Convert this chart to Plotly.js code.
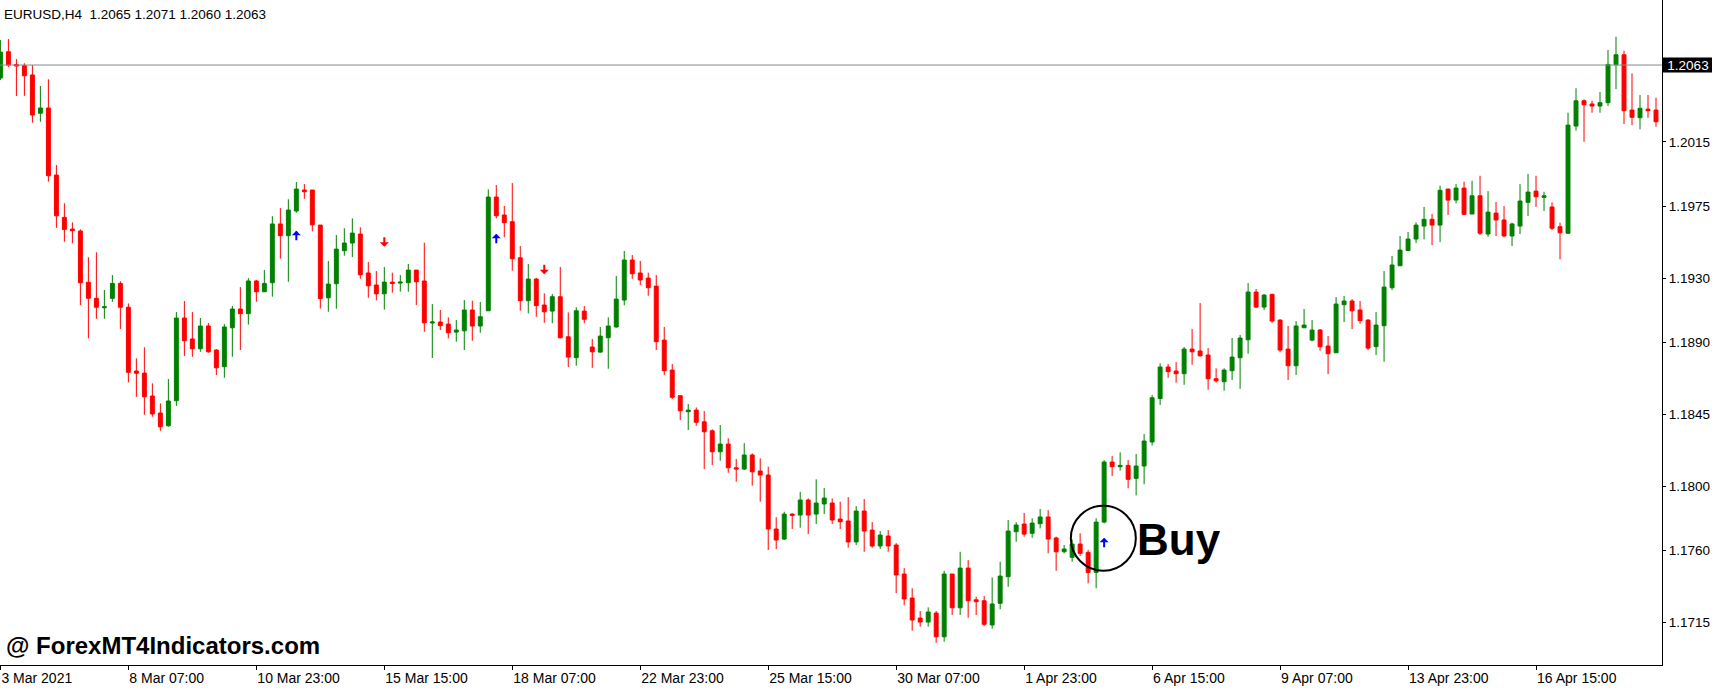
<!DOCTYPE html>
<html><head><meta charset="utf-8">
<script src="https://cdn.plot.ly/plotly-3.0.1.min.js"></script>
<style>html,body{margin:0;padding:0;background:#fff;}#chart{width:1712px;height:691px;}</style>
</head><body><div id="chart"></div>
<script>
const symbolTitle = "EURUSD,H4  1.2065 1.2071 1.2060 1.2063";
const currentPrice = 1.2063;
const tickBars = [0,16,32,48,64,80,96,112,128,144,160,176,192];
const tickLabels = ["3 Mar 2021","8 Mar 07:00","10 Mar 23:00","15 Mar 15:00","18 Mar 07:00","22 Mar 23:00","25 Mar 15:00","30 Mar 07:00","1 Apr 23:00","6 Apr 15:00","9 Apr 07:00","13 Apr 23:00","16 Apr 15:00"];
const priceTicks = [1.2015,1.1975,1.1930,1.1890,1.1845,1.1800,1.1760,1.1715];
const priceTickLabels = ["1.2015","1.1975","1.1930","1.1890","1.1845","1.1800","1.1760","1.1715"];

const openP = [
1.20549,1.20713,1.20633,1.20626,1.20568,1.20329,1.20362,1.19943,
1.19679,1.19606,1.19594,1.19274,1.19174,1.19115,1.19174,1.19267,
1.19118,1.18720,1.18707,1.18564,1.18458,1.18378,1.18535,1.19051,
1.18920,1.18859,1.19001,1.18851,1.18747,1.18990,1.19107,1.19078,
1.19282,1.19215,1.19271,1.19638,1.19565,1.19719,1.19850,1.19850,
1.19631,1.19177,1.19265,1.19471,1.19519,1.19575,1.19332,1.19257,
1.19202,1.19275,1.19269,1.19271,1.19350,1.19282,1.19020,1.19026,
1.19013,1.18963,1.18971,1.19101,1.19001,1.19096,1.19806,1.19694,
1.19652,1.19427,1.19159,1.19294,1.19132,1.19094,1.19184,1.18934,
1.18803,1.19094,1.18870,1.18838,1.18928,1.18995,1.19163,1.19413,
1.19332,1.19300,1.19250,1.18913,1.18726,1.18566,1.18466,1.18476,
1.18403,1.18347,1.18216,1.18264,1.18116,1.18108,1.18196,1.18096,
1.18071,1.17734,1.17671,1.17827,1.17821,1.17915,1.17827,1.17890,
1.17896,1.17796,1.17784,1.17653,1.17846,1.17727,1.17628,1.17690,
1.17634,1.17453,1.17303,1.17178,1.17153,1.17209,1.17061,1.17453,
1.17242,1.17490,1.17292,1.17286,1.17135,1.17270,1.17436,1.17717,
1.17765,1.17707,1.17767,1.17809,1.17678,1.17592,1.17557,1.17640,
1.17588,1.17463,1.17777,1.18152,1.18123,1.18131,1.18050,1.18127,
1.18277,1.18548,1.18745,1.18720,1.18703,1.18857,1.18845,1.18820,
1.18672,1.18653,1.18722,1.18803,1.18915,1.19213,1.19119,1.19199,
1.19038,1.18857,1.18753,1.18990,1.18913,1.18976,1.18876,1.18834,
1.19134,1.19157,1.19101,1.19038,1.18872,1.19003,1.19240,1.19377,
1.19472,1.19544,1.19625,1.19667,1.19631,1.19856,1.19787,1.19862,
1.19700,1.19814,1.19575,1.19706,1.19663,1.19563,1.19625,1.19773,
1.19843,1.19804,1.19744,1.19621,1.19580,1.20249,1.20407,1.20387,
1.20374,1.20395,1.20632,1.20694,1.20349,1.20301,1.20355,1.20349];

const highP = [
1.20786,1.20792,1.20667,1.20641,1.20630,1.20499,1.20541,1.20006,
1.19767,1.19648,1.19604,1.19430,1.19461,1.19226,1.19319,1.19280,
1.19142,1.18799,1.18868,1.18643,1.18518,1.18670,1.19088,1.19157,
1.19088,1.19051,1.19020,1.18857,1.19013,1.19126,1.19244,1.19300,
1.19288,1.19350,1.19687,1.19737,1.19792,1.19900,1.19887,1.19850,
1.19631,1.19407,1.19569,1.19611,1.19673,1.19617,1.19400,1.19344,
1.19369,1.19334,1.19319,1.19388,1.19350,1.19521,1.19138,1.19101,
1.19055,1.19038,1.19163,1.19159,1.19151,1.19854,1.19881,1.19750,
1.19893,1.19500,1.19388,1.19302,1.19205,1.19201,1.19369,1.19086,
1.19118,1.19126,1.18920,1.18995,1.19055,1.19313,1.19469,1.19444,
1.19407,1.19334,1.19319,1.18995,1.18764,1.18566,1.18514,1.18493,
1.18470,1.18356,1.18383,1.18300,1.18171,1.18270,1.18206,1.18175,
1.18123,1.17807,1.17842,1.17832,1.17966,1.17925,1.18044,1.17990,
1.17925,1.17904,1.17933,1.17877,1.17921,1.17777,1.17721,1.17727,
1.17646,1.17490,1.17364,1.17222,1.17245,1.17222,1.17473,1.17453,
1.17592,1.17540,1.17311,1.17315,1.17432,1.17530,1.17790,1.17777,
1.17834,1.17801,1.17859,1.17852,1.17686,1.17634,1.17669,1.17707,
1.17603,1.17801,1.18164,1.18189,1.18212,1.18164,1.18202,1.18327,
1.18570,1.18768,1.18764,1.18776,1.18870,1.18982,1.19144,1.18863,
1.18737,1.18737,1.18926,1.18945,1.19269,1.19232,1.19201,1.19201,
1.19043,1.19001,1.19032,1.19107,1.19038,1.18982,1.18938,1.19182,
1.19188,1.19169,1.19157,1.19044,1.19088,1.19344,1.19438,1.19563,
1.19588,1.19648,1.19744,1.19700,1.19877,1.19856,1.19887,1.19902,
1.19908,1.19939,1.19843,1.19775,1.19750,1.19646,1.19887,1.19950,
1.19939,1.19839,1.19773,1.19646,1.20332,1.20485,1.20416,1.20407,
1.20462,1.20724,1.20807,1.20719,1.20578,1.20443,1.20443,1.20426];

const lowP = [
1.20536,1.20618,1.20437,1.20438,1.20270,1.20276,1.19902,1.19614,
1.19527,1.19517,1.19132,1.18924,1.19046,1.19046,1.19152,1.18982,
1.18649,1.18559,1.18447,1.18435,1.18347,1.18372,1.18502,1.18814,
1.18809,1.18840,1.18834,1.18695,1.18678,1.18809,1.18851,1.19010,
1.19152,1.19213,1.19184,1.19421,1.19277,1.19708,1.19795,1.19592,
1.19110,1.19090,1.19109,1.19440,1.19431,1.19296,1.19177,1.19161,
1.19103,1.19209,1.19215,1.19215,1.19132,1.18965,1.18801,1.18976,
1.18924,1.18903,1.18851,1.18909,1.18959,1.19096,1.19673,1.19555,
1.19346,1.19096,1.19080,1.19059,1.19021,1.19018,1.18924,1.18745,
1.18753,1.19018,1.18740,1.18834,1.18734,1.18990,1.19130,1.19296,
1.19257,1.19190,1.18851,1.18695,1.18545,1.18414,1.18352,1.18378,
1.18108,1.18133,1.18160,1.18085,1.18029,1.18102,1.18004,1.17904,
1.17603,1.17609,1.17665,1.17734,1.17742,1.17702,1.17765,1.17827,
1.17765,1.17734,1.17617,1.17634,1.17592,1.17617,1.17609,1.17592,
1.17334,1.17259,1.17099,1.17124,1.17124,1.17024,1.17030,1.17197,
1.17197,1.17180,1.17197,1.17128,1.17111,1.17233,1.17373,1.17654,
1.17686,1.17679,1.17738,1.17582,1.17473,1.17582,1.17530,1.17565,
1.17395,1.17364,1.17769,1.18065,1.18098,1.17988,1.17944,1.18013,
1.18255,1.18508,1.18678,1.18647,1.18634,1.18759,1.18809,1.18603,
1.18647,1.18597,1.18664,1.18609,1.18828,1.19113,1.19101,1.19021,
1.18837,1.18664,1.18695,1.18990,1.18905,1.18847,1.18701,1.18834,
1.19026,1.18982,1.19015,1.18851,1.18820,1.18778,1.19226,1.19377,
1.19471,1.19519,1.19542,1.19506,1.19525,1.19694,1.19767,1.19694,
1.19700,1.19569,1.19558,1.19563,1.19555,1.19500,1.19575,1.19687,
1.19745,1.19719,1.19600,1.19417,1.19575,1.20220,1.20151,1.20332,
1.20332,1.20374,1.20480,1.20262,1.20255,1.20229,1.20301,1.20245];

const closeP = [
1.20711,1.20630,1.20624,1.20563,1.20318,1.20362,1.19939,1.19689,
1.19604,1.19596,1.19271,1.19174,1.19118,1.19121,1.19267,1.19118,
1.18712,1.18706,1.18559,1.18452,1.18372,1.18533,1.19051,1.18909,
1.18859,1.19001,1.18840,1.18740,1.18995,1.19107,1.19078,1.19282,
1.19215,1.19267,1.19638,1.19565,1.19725,1.19856,1.19839,1.19633,
1.19172,1.19263,1.19481,1.19519,1.19581,1.19321,1.19252,1.19202,
1.19275,1.19266,1.19275,1.19350,1.19277,1.19021,1.19026,1.19003,
1.18959,1.18976,1.19101,1.19001,1.19059,1.19806,1.19689,1.19646,
1.19421,1.19159,1.19294,1.19128,1.19090,1.19184,1.18928,1.18807,
1.19096,1.19043,1.18840,1.18938,1.19001,1.19169,1.19413,1.19327,
1.19288,1.19240,1.18903,1.18722,1.18556,1.18472,1.18476,1.18400,
1.18341,1.18216,1.18264,1.18116,1.18108,1.18196,1.18091,1.18071,
1.17734,1.17665,1.17827,1.17819,1.17915,1.17821,1.17896,1.17927,
1.17790,1.17779,1.17653,1.17846,1.17721,1.17628,1.17696,1.17628,
1.17447,1.17297,1.17166,1.17153,1.17216,1.17061,1.17453,1.17242,
1.17490,1.17286,1.17280,1.17139,1.17266,1.17440,1.17721,1.17759,
1.17702,1.17771,1.17809,1.17671,1.17592,1.17609,1.17640,1.17582,
1.17463,1.17777,1.18152,1.18123,1.18131,1.18044,1.18127,1.18283,
1.18553,1.18745,1.18716,1.18703,1.18857,1.18840,1.18815,1.18672,
1.18659,1.18726,1.18807,1.18926,1.19213,1.19119,1.19194,1.19032,
1.18851,1.18753,1.19001,1.19007,1.18976,1.18872,1.18828,1.19138,
1.19157,1.19096,1.19034,1.18863,1.19007,1.19244,1.19382,1.19475,
1.19544,1.19631,1.19667,1.19631,1.19848,1.19787,1.19862,1.19698,
1.19814,1.19580,1.19712,1.19663,1.19563,1.19638,1.19781,1.19837,
1.19808,1.19814,1.19611,1.19583,1.20255,1.20407,1.20382,1.20374,
1.20395,1.20634,1.20694,1.20345,1.20304,1.20360,1.20345,1.20276];

const buyBars = [37, 62, 138];
const buyPrices = [1.19563, 1.19544, 1.17646];
const sellBars = [48, 68];
const sellPrices = [1.19528, 1.19357];
const signalBar = 138;
const signalPrice = 1.17676;

const barIndex = openP.map((_, i) => i);
const FONT = "Liberation Sans, Arial, sans-serif";
const HALF_ARROW = 0.00033; // half arrow height in price units (about 5 px)

const traces = [
  {
    type: "candlestick",
    x: barIndex, open: openP, high: highP, low: lowP, close: closeP,
    increasing: {line: {color: "#008000", width: 1}, fillcolor: "#008000"},
    decreasing: {line: {color: "#ff0000", width: 1}, fillcolor: "#ff0000"},
    whiskerwidth: 0, hoverinfo: "none", showlegend: false
  }
];

const arrowAnnotations = [];
buyBars.forEach((b, i) => arrowAnnotations.push({
  xref: "x", yref: "y", x: b, y: buyPrices[i] + HALF_ARROW, text: "",
  showarrow: true, ax: 0, ay: 11, arrowhead: 1, arrowsize: 0.75, arrowwidth: 2,
  arrowcolor: "#0000ff", standoff: 0, startstandoff: 0
}));
sellBars.forEach((b, i) => arrowAnnotations.push({
  xref: "x", yref: "y", x: b, y: sellPrices[i] - HALF_ARROW, text: "",
  showarrow: true, ax: 0, ay: -11, arrowhead: 1, arrowsize: 0.75, arrowwidth: 2,
  arrowcolor: "#ff0000", standoff: 0, startstandoff: 0
}));

const layout = {
  width: 1712, height: 691,
  margin: {l: 0, r: 50, t: 0, b: 26, pad: 0},
  paper_bgcolor: "#ffffff", plot_bgcolor: "#ffffff",
  font: {family: FONT, size: 13.5, color: "#000000"},
  showlegend: false,
  xaxis: {
    type: "linear", range: [-0.05, 207.75],
    rangeslider: {visible: false},
    showgrid: false, zeroline: false,
    showline: true, linecolor: "#000000", linewidth: 1,
    ticks: "outside", ticklen: 4, tickcolor: "#000000",
    tickvals: tickBars, ticktext: tickLabels,
    ticklabelposition: "outside right",
    tickfont: {family: FONT, size: 14, color: "#000000"},
    fixedrange: true
  },
  yaxis: {
    side: "right", range: [1.16885, 1.21036],
    showgrid: false, zeroline: false,
    showline: true, linecolor: "#000000", linewidth: 1,
    ticks: "outside", ticklen: 3, tickcolor: "#000000",
    tickvals: priceTicks, ticktext: priceTickLabels,
    tickfont: {family: FONT, size: 13.5, color: "#000000"},
    fixedrange: true
  },
  shapes: [
    {type: "line", xref: "paper", x0: 0, x1: 1, yref: "y", y0: currentPrice, y1: currentPrice,
     line: {color: "#7f8c8d", width: 1}},
    {type: "circle", xref: "x", yref: "y", xsizemode: "pixel", ysizemode: "pixel",
     xanchor: signalBar - 0.1, yanchor: signalPrice, x0: -32.5, x1: 32.5, y0: -32.5, y1: 32.5,
     line: {color: "#000000", width: 2}}
  ],
  annotations: [
    {xref: "paper", yref: "paper", x: 0, y: 1, xanchor: "left", yanchor: "top",
     xshift: 2, yshift: -5, showarrow: false, text: symbolTitle,
     font: {family: FONT, size: 13.5, color: "#000000"}},
    {xref: "paper", yref: "y", x: 1, y: currentPrice, xanchor: "left", yanchor: "middle",
     showarrow: false, text: "1.2063", bgcolor: "#000000", width: 50, height: 14, borderpad: 0,
     font: {family: FONT, size: 13.5, color: "#ffffff"}},
    {xref: "paper", yref: "paper", x: 0, y: 0.03, xanchor: "left", yanchor: "middle",
     xshift: 4, showarrow: false, text: "<b>@ ForexMT4Indicators.com</b>",
     font: {family: FONT, size: 24, color: "#000000"}},
    {xref: "x", yref: "y", x: 141.8, y: 1.17646, xanchor: "left", yanchor: "middle",
     yshift: 4, showarrow: false, text: "<b>Buy</b>",
     font: {family: FONT, size: 44, color: "#000000"}}
  ].concat(arrowAnnotations)
};

Plotly.newPlot("chart", traces, layout, {staticPlot: true, displayModeBar: false});
</script>
</body></html>
